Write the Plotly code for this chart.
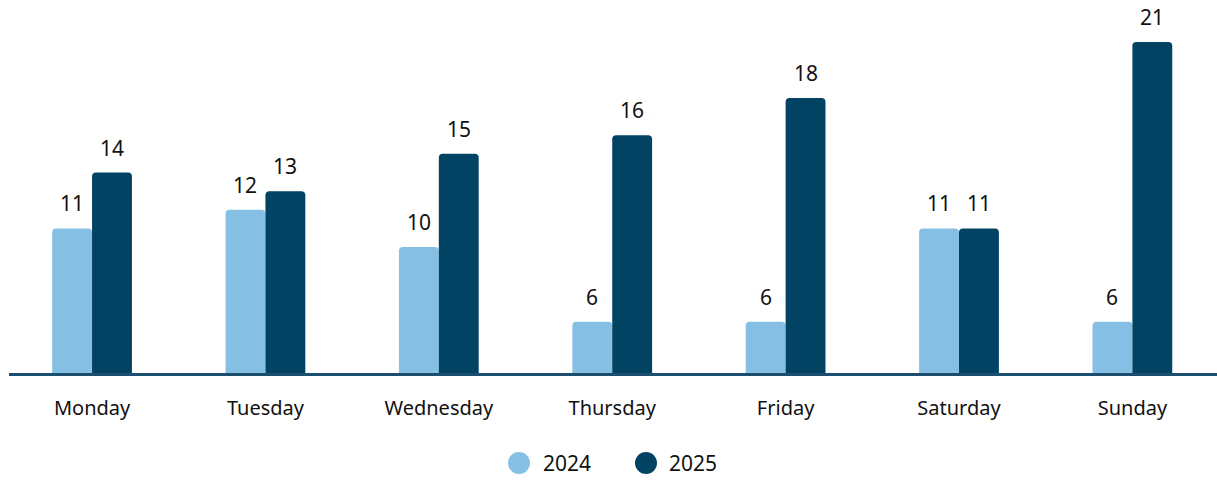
import plotly.graph_objects as go

days = ["Monday", "Tuesday", "Wednesday", "Thursday", "Friday", "Saturday", "Sunday"]
series_names = ["2024", "2025"]
values_2024 = [11, 12, 10, 6, 6, 11, 6]
values_2025 = [14, 13, 15, 16, 18, 11, 21]

colors = {"2024": "#85BFE3", "2025": "#024364"}
font_family = "Noto Sans, Open Sans, sans-serif"
text_color = "#111111"

fig = go.Figure()
for name, vals in zip(series_names, [values_2024, values_2025]):
    fig.add_trace(go.Bar(
        x=days, y=vals, name=name,
        marker=dict(color=colors[name], line=dict(width=0), cornerradius=4),
        showlegend=False, hoverinfo="x+y",
    ))

# value labels above each bar (bars are offset half a bar width left/right)
bar_half = 20
for name, vals, shift in [("2024", values_2024, -bar_half), ("2025", values_2025, bar_half)]:
    for d, v in zip(days, vals):
        fig.add_annotation(
            x=d, y=v, text=str(v), showarrow=False,
            xshift=shift, yshift=9, yanchor="bottom",
            font=dict(family=font_family, size=21, color=text_color),
        )

# legend: round markers with labels under the chart
legend_items = [("2024", 519, 541), ("2025", 646, 667)]
W, H = 1217, 488
for name, cx, tx in legend_items:
    fig.add_shape(
        type="circle", xref="paper", yref="paper",
        xsizemode="pixel", ysizemode="pixel",
        xanchor=(cx - 9) / (W - 9), yanchor=(373 - 463) / 370,
        x0=-11, x1=11, y0=-11, y1=11,
        fillcolor=colors[name], line=dict(width=0),
    )
    fig.add_annotation(
        xref="paper", yref="paper", x=(tx - 9) / (W - 9), y=(373 - 463) / 370,
        text=name, showarrow=False, xanchor="left", yanchor="middle",
        font=dict(family=font_family, size=21, color=text_color),
    )

fig.update_layout(
    width=W, height=H,
    margin=dict(l=9, r=0, t=3, b=115),
    barmode="group", bargap=0.54, bargroupgap=0,
    plot_bgcolor="white", paper_bgcolor="white",
    font=dict(family=font_family, size=21, color=text_color),
    xaxis=dict(
        range=[-0.479, 6.488], showgrid=False, zeroline=False,
        showline=True, linecolor="#1C4E70", linewidth=2.5,
        ticks="outside", ticklen=15, tickcolor="rgba(0,0,0,0)",
        tickfont=dict(family=font_family, size=20, color=text_color),
    ),
    yaxis=dict(range=[3.25, 23.09], visible=False, showgrid=False, zeroline=False),
)

fig.write_html("out.html")
